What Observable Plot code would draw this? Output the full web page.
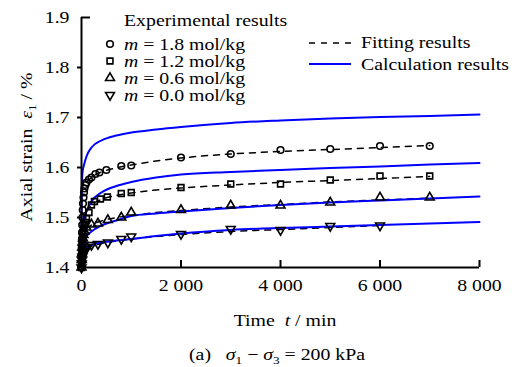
<!DOCTYPE html>
<html><head><meta charset="utf-8">
<script src="https://cdn.jsdelivr.net/npm/d3@7"></script>
<script src="https://cdn.jsdelivr.net/npm/@observablehq/plot@0.6"></script>
<style>body{margin:0;background:#fff} svg{display:block} text{white-space:pre}</style>
</head><body><div id="chart"></div>
<script>
// ---- data ----
const xTicks = [0, 2000, 4000, 6000, 8000];
const yTicks = [1.4, 1.5, 1.6, 1.7, 1.8, 1.9];

const tExp18 = [0, 2, 4, 6, 8, 10, 15, 20, 25, 30, 40, 50, 60, 80, 100, 150, 200, 280, 360, 500, 800, 1000, 2000, 3000, 4000, 5000, 6000, 7000];
const vExp18 = [1.400, 1.412, 1.425, 1.440, 1.455, 1.470, 1.485, 1.500, 1.515, 1.528, 1.540, 1.550, 1.558, 1.565, 1.570, 1.576, 1.580, 1.587, 1.590, 1.595, 1.603, 1.604, 1.620, 1.627, 1.635, 1.637, 1.643, 1.643];
const tExp12 = [0, 5, 10, 15, 20, 30, 40, 60, 80, 100, 150, 200, 260, 380, 520, 800, 1000, 2000, 3000, 4000, 5000, 6000, 7000];
const vExp12 = [1.400, 1.420, 1.435, 1.448, 1.460, 1.470, 1.478, 1.485, 1.490, 1.498, 1.510, 1.525, 1.532, 1.537, 1.541, 1.548, 1.550, 1.560, 1.567, 1.567, 1.575, 1.583, 1.583];
const tExp06 = [0, 5, 10, 15, 20, 30, 40, 60, 100, 200, 330, 530, 800, 1000, 2000, 3000, 4000, 5000, 6000, 7000];
const vExp06 = [1.400, 1.415, 1.428, 1.440, 1.450, 1.458, 1.465, 1.472, 1.480, 1.486, 1.488, 1.495, 1.500, 1.510, 1.515, 1.524, 1.524, 1.530, 1.540, 1.540];
const tExp00 = [0, 5, 10, 20, 30, 50, 80, 120, 200, 330, 530, 800, 1000, 2000, 3000, 4000, 5000, 6000];
const vExp00 = [1.400, 1.408, 1.415, 1.422, 1.428, 1.433, 1.437, 1.441, 1.445, 1.447, 1.450, 1.457, 1.462, 1.467, 1.477, 1.475, 1.483, 1.484];

const tFit = [100, 200, 400, 700, 1000, 1500, 2000, 3000, 4000, 5000, 6000, 7000];
const vFit18 = [1.570, 1.580, 1.591, 1.599, 1.605, 1.613, 1.619, 1.627, 1.632, 1.636, 1.640, 1.644];
const vFit12 = [1.512, 1.525, 1.536, 1.544, 1.549, 1.555, 1.559, 1.565, 1.570, 1.574, 1.578, 1.582];
const vFit06 = [1.478, 1.485, 1.493, 1.500, 1.504, 1.510, 1.514, 1.521, 1.526, 1.531, 1.535, 1.539];
const vFit00 = [1.437, 1.442, 1.448, 1.453, 1.457, 1.462, 1.466, 1.472, 1.476, 1.480, 1.484];

const tCalc = [0, 1, 5, 10, 20, 50, 100, 200, 400, 700, 1000, 1500, 2000, 3000, 4000, 5000, 6000, 7000, 8000];
const vCalc18 = [1.400, 1.470, 1.540, 1.570, 1.590, 1.605, 1.622, 1.640, 1.654, 1.664, 1.670, 1.676, 1.681, 1.689, 1.694, 1.698, 1.701, 1.703, 1.706];
const vCalc12 = [1.400, 1.420, 1.440, 1.460, 1.475, 1.495, 1.512, 1.532, 1.550, 1.563, 1.571, 1.580, 1.586, 1.591, 1.595, 1.599, 1.602, 1.606, 1.609];
const vCalc06 = [1.400, 1.410, 1.420, 1.430, 1.440, 1.452, 1.462, 1.472, 1.484, 1.494, 1.503, 1.508, 1.512, 1.519, 1.525, 1.530, 1.534, 1.538, 1.542];
const vCalc00 = [1.400, 1.405, 1.412, 1.418, 1.424, 1.432, 1.438, 1.445, 1.450, 1.454, 1.457, 1.463, 1.468, 1.475, 1.479, 1.482, 1.485, 1.488, 1.491];

const seriesNames = ["1.8", "1.2", "0.6", "0.0"];
const symbols = ["circle", "square", "triangle", "triangle"];
const rotations = [0, 0, 0, 180];

// ---- tables ----
const zip = (ts, vs, s) => ts.slice(0, vs.length).map((t, i) => ({t, v: vs[i], s}));
const exp = [[tExp18, vExp18], [tExp12, vExp12], [tExp06, vExp06], [tExp00, vExp00]]
  .map(([t, v], k) => zip(t, v, seriesNames[k]));
const fit = [vFit18, vFit12, vFit06, vFit00].map((v, k) => zip(tFit, v, seriesNames[k])).flat();
const calc = [vCalc18, vCalc12, vCalc06, vCalc00].map((v, k) => zip(tCalc, v, seriesNames[k])).flat();

const FONT = "'Liberation Serif', 'Times New Roman', serif";
const FS = 16.5;      // glyph height as in the reference
const SX = 1.2;       // the reference type is set wide
const fmtX = d => d === 0 ? "0" : d3.format(",")(d).replace(/,/g, " ");

const plot = Plot.plot({
  width: 519, height: 367,
  marginLeft: 81, marginRight: 40, marginTop: 17, marginBottom: 100,
  style: {fontFamily: FONT, fontSize: FS + "px", color: "black", background: "white"},
  x: {domain: [0, 8000], label: null},
  y: {domain: [1.4, 1.9], label: null},
  marks: [
    Plot.line(fit, {x: "t", y: "v", z: "s", stroke: "black", strokeWidth: 1.5, strokeDasharray: "6,6", curve: "monotone-x"}),
    Plot.line(calc, {x: "t", y: "v", z: "s", stroke: "#0000ff", strokeWidth: 2, curve: "monotone-x"}),
    ...exp.map((d, k) => Plot.dot(d, {x: "t", y: "v", symbol: () => symbols[k], rotate: rotations[k], r: 3.3, fill: "none", stroke: "black", strokeWidth: 1.6})),
    Plot.ruleX([0], {strokeWidth: 2}),
    Plot.ruleY([1.4], {strokeWidth: 2}),
    Plot.axisX(xTicks, {tickSize: -7, strokeWidth: 2, tickFormat: () => "", label: null}),
    Plot.axisX(xTicks, {tickSize: 0, tickPadding: 12, tickFormat: fmtX, label: null}),
    Plot.axisY(yTicks.slice(0, 5), {tickSize: 4, strokeWidth: 2, tickFormat: () => "", label: null}),
    Plot.axisY([1.9], {tickSize: -9, strokeWidth: 2, tickFormat: () => "", label: null}),
    Plot.axisY(yTicks, {tickSize: 0, tickPadding: 12, tickFormat: d3.format(".1f"), label: null})
  ]
});
document.getElementById("chart").appendChild(plot);

// widen the axis tick labels like the reference type
d3.select(plot).selectAll("g[aria-label$='tick label'] text").each(function () {
  const tr = this.getAttribute("transform") || "";
  this.setAttribute("transform", tr + ` scale(${SX},1)`);
});

// ---- texts and legend ----
const svg = d3.select(plot);
const g = svg.append("g").attr("font-family", FONT).attr("font-size", FS).attr("fill", "black");
function rich(x, y, parts, anchor = "start", rotate = 0) {
  const t = g.append("text").attr("text-anchor", anchor)
    .attr("transform", `translate(${x},${y}) rotate(${rotate}) scale(${SX},1)`);
  let shift = 0;
  parts.forEach(p => {
    const ts = t.append("tspan").text(p.s);
    if (p.i) ts.attr("font-style", "italic");
    if (p.sub) { ts.attr("font-size", 11).attr("dy", 4 - shift); shift = 4; }
    else if (shift) { ts.attr("dy", -shift); shift = 0; }
  });
}
rich(124, 26, [{s: "Experimental results"}]);
seriesNames.forEach((n, k) => {
  const cy = 44 + k * 17;
  g.append("path")
    .attr("d", d3.symbol(k === 0 ? d3.symbolCircle : k === 1 ? d3.symbolSquare : d3.symbolTriangle, 3.3 * 3.3 * Math.PI)())
    .attr("transform", `translate(110,${cy}) rotate(${rotations[k]})`)
    .attr("fill", "none").attr("stroke", "black").attr("stroke-width", 1.6);
  rich(124, cy + 5.5, [{s: "m", i: true}, {s: " = " + n + " mol/kg"}]);
});
g.append("line").attr("x1", 309).attr("x2", 351).attr("y1", 43).attr("y2", 43)
  .attr("stroke", "black").attr("stroke-width", 1.5).attr("stroke-dasharray", "6,6");
rich(361, 48, [{s: "Fitting results"}]);
g.append("line").attr("x1", 309).attr("x2", 351).attr("y1", 64).attr("y2", 64)
  .attr("stroke", "#0000ff").attr("stroke-width", 2);
rich(361, 69.5, [{s: "Calculation results"}]);

rich(32, 147, [{s: "Axial strain  "}, {s: "ε", i: true}, {s: "1", sub: true}, {s: " / %"}], "middle", -90);
rich(285, 326, [{s: "Time  "}, {s: "t", i: true}, {s: " / min"}], "middle");
rich(277, 360, [{s: "(a)   "}, {s: "σ", i: true}, {s: "1", sub: true}, {s: " − "}, {s: "σ", i: true}, {s: "3", sub: true}, {s: " = 200 kPa"}], "middle");
</script>
</body></html>
